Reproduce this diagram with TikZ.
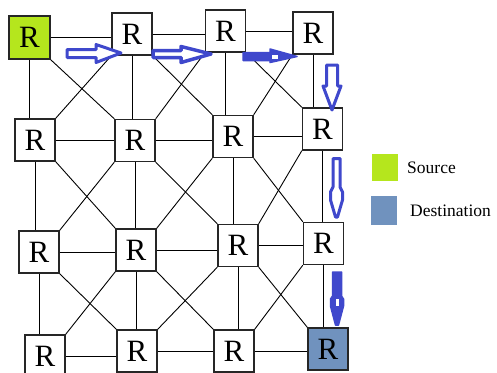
\documentclass[tikz,border=0pt]{standalone}
\usepackage{fontspec}
\setmainfont{Liberation Serif}
\definecolor{srcgreen}{HTML}{B5E61D}
\definecolor{dstblue}{HTML}{7092BE}
\definecolor{arrowblue}{HTML}{3F48CC}
\tikzset{
  router/.style={draw=black!85, line width=1.3pt, fill=white, minimum width=40pt, minimum height=42pt, inner sep=0pt, font=\fontsize{31}{31}\selectfont},
  link/.style={draw=black, line width=0.9pt},
  hollowarrow/.style={draw=arrowblue, line width=3pt, fill=white, line join=round},
  solidarrow/.style={draw=arrowblue, line width=1.5pt, fill=arrowblue, line join=round},
  legendbox/.style={minimum width=26pt, minimum height=27pt, inner sep=0pt},
  legendtext/.style={anchor=west, inner sep=0pt, font=\fontsize{17.5}{17.5}\selectfont}
}
\begin{document}
\begin{tikzpicture}[x=1pt, y=-1pt]
\useasboundingbox (0,0) rectangle (497,372);
\clip (0,0) rectangle (497,372);
\fill[white] (0,0) rectangle (497,372);
% routers
\node[router, fill=srcgreen, minimum width=41pt, minimum height=43pt] (n11) at (29.5,37.5) {R};
\node[router] (n12) at (132,34) {R};
\node[router] (n13) at (225.5,31) {R};
\node[router] (n14) at (313,33) {R};
\node[router] (n21) at (35,140) {R};
\node[router] (n22) at (135,140.5) {R};
\node[router] (n23) at (233,136.5) {R};
\node[router] (n24) at (322.5,129) {R};
\node[router] (n31) at (39,252) {R};
\node[router] (n32) at (136,250) {R};
\node[router] (n33) at (238,245.5) {R};
\node[router] (n34) at (323.5,243.5) {R};
\node[router] (n41) at (45,356) {R};
\node[router] (n42) at (137,351) {R};
\node[router] (n43) at (234,351) {R};
\node[router, fill=dstblue] (n44) at (328,349) {R};
% horizontal links
\foreach \r in {1,2,3,4}{
  \draw[link] (n\r1.east) -- (n\r1.east -| n\r2.west);
  \draw[link] (n\r2.east) -- (n\r2.east -| n\r3.west);
  \draw[link] (n\r3.east) -- (n\r3.east -| n\r4.west);
}
% vertical links
\foreach \c in {1,2,3,4}{
  \draw[link] (n1\c.south) -- (n1\c.south |- n2\c.north);
  \draw[link] (n2\c.south) -- (n2\c.south |- n3\c.north);
  \draw[link] (n3\c.south) -- (n3\c.south |- n4\c.north);
}
% diagonal links
\foreach \r/\s in {1/2,2/3,3/4}{
  \foreach \c/\d in {1/2,2/3,3/4}{
    \draw[link] (n\r\c.south east) -- (n\s\d.north west);
    \draw[link] (n\r\d.south west) -- (n\s\c.north east);
  }
}
% route arrows
\draw[hollowarrow] (67,49.5) -- (96,49.5) -- (96,44.5) -- (121,53) -- (96,62.5) -- (96,57.5) -- (67,57.5) -- cycle;
\draw[hollowarrow, line width=3.5pt] (153,50.5) -- (181,50.5) -- (181,46.5) -- (211,54) -- (181,62.5) -- (181,57.5) -- (153,57.5) -- cycle;
\draw[solidarrow] (243,52.5) -- (270,52.5) -- (270,49) -- (297,56.5) -- (270,62.5) -- (270,60.5) -- (243,60.5) -- cycle;
\fill[white] (272,55) rectangle (278,58.5);
\draw[hollowarrow] (326.5,65) -- (337.5,65) -- (337.5,86) -- (341,86) -- (332,110) -- (323,86) -- (326.5,86) -- cycle;
\draw[hollowarrow] (333,158.5) -- (340,158.5) -- (340,187) -- (342.5,192) -- (342.5,200) -- (337.5,217) -- (335.5,217) -- (330.5,200) -- (330.5,192) -- (333,187) -- cycle;
\draw[solidarrow] (332.5,272) -- (341.5,272) -- (341.5,296) -- (343.5,299) -- (343.5,306) -- (338.5,325) -- (335.5,325) -- (330.5,306) -- (330.5,299) -- (332.5,296) -- cycle;
\fill[white] (335.5,299) rectangle (338.5,306);
% legend
\node[legendbox, fill=srcgreen] (lsrc) at (385,167) {};
\node[legendtext] (tsrc) at (407,168) {Source};
\node[legendbox, fill=dstblue, minimum height=29pt] (ldst) at (383.5,210.5) {};
\node[legendtext] (tdst) at (410,211) {Destination};
\end{tikzpicture}
\end{document}
